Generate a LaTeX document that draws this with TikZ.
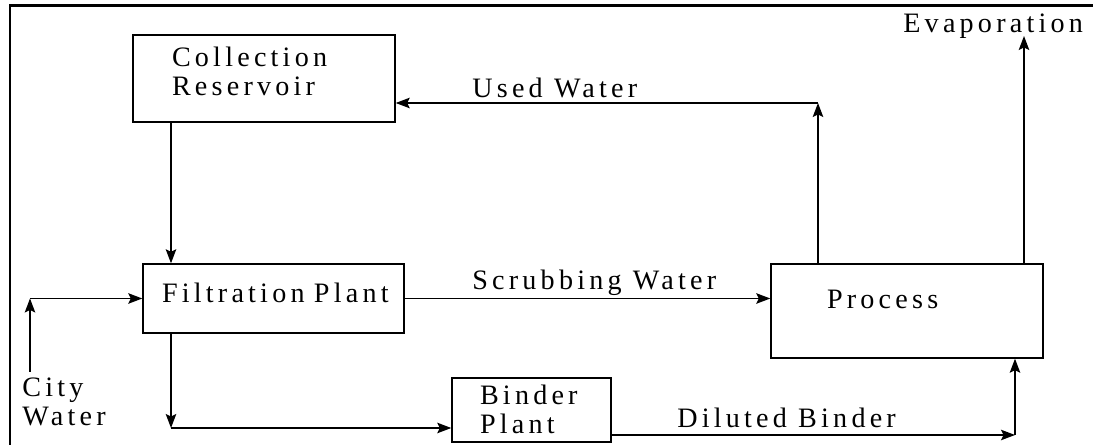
\documentclass[tikz,border=0pt]{standalone}
\usepackage{fontspec}
\setmainfont{Liberation Serif}[LetterSpace=15]
\usepackage{tikz}
\usetikzlibrary{arrows.meta,calc,positioning}
\newcommand{\px}{0.02cm}

\begin{document}
\begin{tikzpicture}[x=\px,y=-\px,>={Stealth[length=8pt,width=6pt,inset=1.5pt]},
  every node/.style={font=\fontsize{16}{16.5}\selectfont},
  box/.style={draw,line width=0.8pt,inner sep=0pt,align=left,text height=10.9pt},
  flow/.style={->,line width=0.8pt},
  lbl/.style={anchor=base west,inner sep=0pt}]
  \useasboundingbox (0,0) rectangle (1093,445);
  \draw[line width=1.7pt] (10,445) -- (10,6) -- (1093,6);
  \node[box,minimum width=262*\px,minimum height=87*\px,text width=184*\px,text depth=24pt]
    (coll) at (264,78.5) {Collection\\Reservoir};
  \node[box,minimum width=261*\px,minimum height=69*\px,text width=223*\px,text depth=5.8pt]
    (filt) at (273.5,298.5) {Filtration~Plant};
  \node[box,minimum width=272*\px,minimum height=94*\px,text width=160*\px,text depth=14.3pt]
    (proc) at (907,311) {Process};
  \node[box,minimum width=159*\px,minimum height=64*\px,text width=103*\px,text depth=16.6pt]
    (bind) at (531.5,410) {Binder\\Plant};
  \node[lbl] (usedw) at (472,98) {Used Water};
  \node[lbl] (scrubw) at (472,290) {Scrubbing Water};
  \node[lbl] (dilb) at (677,428) {Diluted Binder};
  \node[lbl] (evap) at (903,33) {Evaporation};
  \node[lbl,text width=100*\px] (cityw) at (22,397) {City\\Water};
  \coordinate (uw) at (818,103);
  \coordinate (ev) at (1024,36);
  \coordinate (fd) at (171,428);
  \coordinate (db) at (1015,435);
  \coordinate (city) at (30,372);
  \draw[flow] (coll.south -| fd) -- (filt.north -| fd);
  \draw[flow] (proc.north -| uw) -- (uw);
  \draw[flow] (uw) -- (uw -| coll.east);
  \draw[flow] (proc.north -| ev) -- (ev);
  \draw[flow] (filt.east) -- (filt.east -| proc.west);
  \draw[flow] (city) -- (city |- filt.west);
  \draw[flow] (city |- filt.west) -- (filt.west);
  \draw[flow] (filt.south -| fd) -- (fd);
  \draw[flow] (fd) -- (fd -| bind.west);
  \draw[flow] (bind.east |- db) -- (db);
  \draw[flow] (db) -- (db |- proc.south);
\end{tikzpicture}
\end{document}
